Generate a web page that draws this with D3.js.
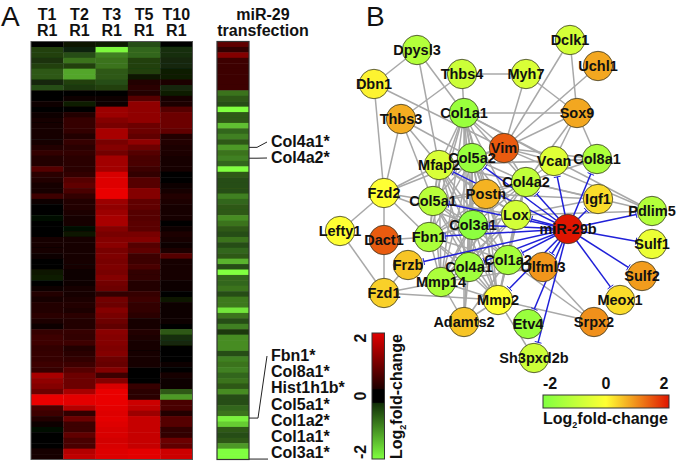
<!DOCTYPE html>
<html>
<head>
<meta charset="utf-8">
<script src="https://d3js.org/d3.v7.min.js"></script>
<style>
  html, body { margin: 0; padding: 0; background: #fff; }
  text { font-family: "Liberation Sans", Arial, sans-serif; font-weight: bold; fill: #111; }
</style>
</head>
<body>
<svg id="chart" width="680" height="462"></svg>
<script>
// Panel A: log2 fold-change per gene (rows, top to bottom) for each column
var headers = ["T1", "T2", "T3", "T5", "T10"];
var t1 = [0,-.5,-.5,-.4,-.5,-.7,-.7,-.3,-.6,0,0,.1,0,.1,.15,.2,.2,.2,.15,.3,.4,.3,.3,.7,.35,.3,.2,.2,.5,.1,.05,.05,-.1,0,0,-.05,.2,.15,.15,.1,.05,.05,-.15,-.2,.05,.1,.3,.2,.3,.3,.35,.25,.1,.45,.5,.5,.4,.45,.45,.5,.45,1.4,1.2,1.1,.9,1.95,1.95,.6,.5,.3,.1,-.1,.05,.05,0,.2,.2];
var t2 = [-.15,-.25,-.6,-.9,-.5,-1.3,-1.3,-.5,-.45,0,.1,-.2,.05,.3,.45,.45,.4,.3,.45,.35,.4,.35,.35,.35,.4,.7,.8,.6,.4,.3,.3,.25,.2,.2,-.1,-.15,.2,.2,.2,.2,.15,.15,.1,.1,.1,.15,.2,.25,.3,.25,.35,.3,.3,.45,.4,.5,.3,.35,.4,.5,.7,.9,.9,.9,1.4,1.9,1.9,1.5,.4,.9,.5,.5,.8,.6,.6,1.5,1.6];
var t3 = [-.2,-1.95,-1,-.9,-.9,-.7,-.7,-.6,-.5,.05,.1,.1,1.3,1.3,1.1,1,1.4,1.4,1,1.1,.95,1.35,1.35,1.35,1.8,1.85,1.85,1.95,1.95,1.3,1.2,1.3,1.4,1.4,1.1,1,1.1,1.15,1,1.05,1,1.05,1,1.1,.95,.9,.4,.95,.9,1.1,1,.9,.8,1.15,1.1,1.1,1.05,1.1,.9,.85,1.1,.5,1.1,1.8,1.95,1.95,1.95,1.9,1.85,1.9,1.85,1.8,1.8,1.75,1.8,1.85,1.85];
var t5 = [-.6,-.8,-.8,-.5,-.5,-.5,-.15,.3,.35,.3,.7,1.2,1.2,1.2,1.2,.9,.9,.8,1.2,.9,.7,.6,.6,.5,.4,.7,.7,1.1,1.1,.8,.8,.7,.7,.75,.75,1,1.1,.7,.8,.5,.5,.6,.4,.4,.3,.3,.45,.5,.4,.4,.35,.15,.2,.3,.25,.2,.15,.15,.2,.2,.05,.05,.05,.45,.35,.35,1.7,1.6,1.3,1.65,1.65,1.65,1.65,1.65,1.65,1.9,1.9];
var t10 = [-.05,-.35,-.35,-.3,-.3,-.2,-.2,.25,-.3,-.2,.15,.25,.7,.9,.9,.9,.8,.3,.3,.25,.25,.2,.2,.15,.05,-.05,.1,.15,.3,.25,.2,.2,.2,.05,.1,.25,.15,.1,.25,.7,.15,.2,.2,.15,.1,.1,.05,-.15,.1,.1,.1,.1,.05,-.7,-.35,-.3,-.05,.05,.05,.1,-.05,.2,.1,.1,-.7,-1.2,.6,.6,.3,.7,.7,.4,.4,.9,.8,1.7,1.7];
var mir29 = [.8,.4,1.1,.5,.5,.5,.5,.5,.5,-.9,-.7,-.6,-2,-.7,-.7,-1.5,-.8,-1,-.7,-1.2,-.9,-1,-.8,-2,-.7,-.6,-.6,-.6,-1,-.8,-.7,-.7,-1.1,-.9,-.7,-.6,-.9,-.6,-.8,-.7,-1.4,-.6,-2,-.8,-.8,-.9,-.6,-.95,-.95,-1.8,-.9,-.6,-1,-.45,-1.1,-1.1,-1.1,-.6,-1,-.9,-1,-.8,-.9,-.7,-1.1,-.6,-.6,-.8,-.9,-1.9,-1.6,-.7,-.6,-.7,-1.2,-2,-2];
var columns = [t1, t2, t3, t5, t10];

// labels next to the transfection strip, row = row they point at
var topGenes = [{name: "Col4a1*", row: 19}, {name: "Col4a2*", row: 21}];
var bottomGenes = ["Fbn1*", "Col8a1*", "Hist1h1b*", "Col5a1*", "Col1a2*", "Col1a1*", "Col3a1*"];

// Panel B: network, layout units from the picture
var nodeNames = ["Dpysl3","Dbn1","Thbs4","Myh7","Dclk1","Uchl1","Thbs3","Col1a1","Sox9","Vim","Col5a2","Mfap2","Vcan","Col8a1","Col4a2","Fzd2","Col5a1","Postn","Igf1","Pdlim5","Lox","Col3a1","miR-29b","Lefty1","Sulf1","Dact1","Fbn1","Col1a2","Frzb","Col4a1","Olfml3","Sulf2","Mmp14","Fzd1","Mmp2","Meox1","Adamts2","Etv4","Srpx2","Sh3pxd2b"];
var nodeFc = [-1.2,.1,-.8,-.6,-.7,.75,.7,-1.6,.75,1.4,-1.6,-.6,-.5,-1.3,-1,0,-1.1,.65,.3,-1.2,-.7,-1.8,2,0,-.3,1.4,-1.3,-1.4,.5,-1.5,.9,.85,-1.3,.4,0,.3,.5,-1.6,.95,-.8];
var nodeX = [21.75,11,33,49,60,67,17.75,33.5,61.75,43.5,35.5,27.25,56,66.75,49,13.5,25.75,39,67,80.5,46.5,35.75,59.5,2.5,80.5,13.5,24.75,44.5,19.5,34.75,53.25,78,27.75,13.5,42,72.5,33.5,49.5,66,51];
var nodeY = [5,13.5,11,11,2.5,9,22.25,20.75,20.75,29.5,32,33.75,32.75,32.25,38,40.75,42.75,41,42.25,45.25,46.25,48.75,49.75,50.25,53.5,52.5,51.75,57.5,58.75,59.25,59.25,61.5,63,65.75,67.5,67.5,73,73.5,73,82];

var grayEdges = [
  ["Dpysl3","Dbn1"],["Dpysl3","Col1a1"],["Dpysl3","Mfap2"],["Dbn1","Fzd2"],["Dbn1","Vim"],
  ["Thbs4","Myh7"],["Thbs4","Col1a1"],["Thbs4","Thbs3"],["Myh7","Vim"],["Myh7","Sox9"],
  ["Dclk1","Vim"],["Dclk1","Sox9"],["Uchl1","Vim"],["Col1a1","Sox9"],["Sox9","Vim"],["Sox9","Vcan"],
  ["Sox9","Col8a1"],["Sox9","Col4a2"],["Thbs3","Fzd2"],["Thbs3","Col5a2"],["Thbs3","Col5a1"],["Thbs3","Mfap2"],
  ["Col1a1","Vim"],["Col1a1","Vcan"],["Col1a1","Adamts2"],["Col1a1","Pdlim5"],["Vim","Vcan"],["Vim","Col8a1"],
  ["Vim","Col5a2"],["Vim","Pdlim5"],["Vim","Mfap2"],["Vim","Col4a2"],["Fzd2","Lefty1"],["Fzd2","Mfap2"],["Fzd2","Col5a2"],
  ["Fzd2","Col5a1"],["Fzd2","Fbn1"],["Fzd2","Dact1"],["Fzd2","Col3a1"],["Dact1","Fbn1"],["Dact1","Fzd1"],
  ["Lefty1","Fzd1"],["Fzd1","Frzb"],["Fzd1","Mmp14"],["Fzd1","Mmp2"],["Mmp2","Srpx2"],["Olfml3","Srpx2"],
  ["Col1a2","Srpx2"],["Mmp2","Sh3pxd2b"],["Adamts2","Mmp2"],["Adamts2","Col5a2"],["Adamts2","Col3a1"],["Adamts2","Col1a2"],
  ["Lox","Igf1"],["Lox","Pdlim5"],["Col4a2","Pdlim5"],["Col4a2","Col8a1"],["Vcan","Col8a1"],["Vcan","Col4a2"],
  ["Igf1","Col4a2"],["Igf1","Postn"],["Mfap2","Col8a1"],["Vcan","Mfap2"],["Mmp14","Adamts2"],["Mmp14","Olfml3"]
];
// collagen core, every pair in it is connected
var coreGenes = ["Col1a1","Col5a2","Mfap2","Col5a1","Postn","Lox","Col3a1","Fbn1","Col1a2","Col4a1","Mmp14","Mmp2","Col4a2"];
var mirTargets = ["Col5a2","Mfap2","Col5a1","Col4a2","Vcan","Col8a1","Igf1","Pdlim5","Lox","Col3a1","Sulf1","Sulf2","Meox1","Fbn1","Col1a2","Col4a1","Frzb","Olfml3","Mmp2","Etv4","Sh3pxd2b"];

var svg = d3.select("#chart");
var labelSize = "16px";

// Heat colours: green - black - red
var heatColor = d3.scaleLinear().domain([-2, 0, 2]).range(["#80ff40", "#000000", "#f00000"]).clamp(true);
var nodeColor = d3.scaleLinear().domain([-2, 0, 2]).range(["#80ff40", "#ffff33", "#e01500"]);

var rowIds = d3.range(t1.length);
var rowY = d3.scaleBand().domain(rowIds).range([41.5, 459.5]);
var colX = d3.scaleBand().domain(headers).range([31, 192.5]);
var stripX = d3.scaleBand().domain(["mir"]).range([217, 249]);

var defs = svg.append("defs");
// the rows run into each other a little in the original
defs.append("filter").attr("id", "soft").attr("x", "0%").attr("y", "0%").attr("width", "100%").attr("height", "100%")
  .append("feGaussianBlur").attr("stdDeviation", "0.3 0.6");

// Panel letters
svg.append("text").attr("x", 1).attr("y", 25.5).style("font-size", "28px").style("font-weight", "normal").text("A");
svg.append("text").attr("x", 366).attr("y", 25.5).style("font-size", "28px").style("font-weight", "normal").text("B");

// Heatmap
var heat = svg.append("g").attr("filter", "url(#soft)");
columns.forEach(function(col, i) {
  heat.append("g")
    .selectAll("rect")
    .data(col)
    .enter()
    .append("rect")
    .attr("x", colX(headers[i]))
    .attr("y", (d, r) => rowY(r))
    .attr("width", colX.bandwidth() + 0.3)
    .attr("height", rowY.bandwidth() + 0.5)
    .style("fill", d => heatColor(d));
});
svg.append("rect")
  .attr("x", colX.range()[0]).attr("y", rowY.range()[0])
  .attr("width", colX.range()[1] - colX.range()[0])
  .attr("height", rowY.range()[1] - rowY.range()[0])
  .style("fill", "none").style("stroke", "#555").style("stroke-width", 1);

headers.forEach(function(h) {
  var t = svg.append("text")
    .attr("text-anchor", "middle")
    .style("font-size", labelSize);
  t.append("tspan").attr("x", colX(h) + colX.bandwidth() / 2).attr("y", 20).text(h);
  t.append("tspan").attr("x", colX(h) + colX.bandwidth() / 2).attr("y", 36).text("R1");
});

// Transfection strip
svg.append("g")
  .attr("filter", "url(#soft)")
  .selectAll("rect")
  .data(mir29)
  .enter()
  .append("rect")
  .attr("x", stripX("mir"))
  .attr("y", (d, r) => rowY(r))
  .attr("width", stripX.bandwidth())
  .attr("height", rowY.bandwidth() + 0.5)
  .style("fill", d => heatColor(d));
svg.append("rect")
  .attr("x", stripX("mir")).attr("y", rowY.range()[0])
  .attr("width", stripX.bandwidth()).attr("height", rowY.range()[1] - rowY.range()[0])
  .style("fill", "none").style("stroke", "#333").style("stroke-width", 1.2);

var stripTitle = svg.append("text").attr("text-anchor", "middle").style("font-size", labelSize);
stripTitle.append("tspan").attr("x", 263).attr("y", 20).text("miR-29");
stripTitle.append("tspan").attr("x", 263).attr("y", 36).text("transfection");

// Gene callouts
var line = d3.line();
var stripRight = stripX.range()[1];
topGenes.forEach(function(g, i) {
  var y = rowY(g.row) + rowY.bandwidth() / 2;
  var labelY = 147 + i * 16;
  svg.append("path")
    .attr("d", line([[stripRight, y], [stripRight + 8, y], [stripRight + 18, labelY - 5]]))
    .style("fill", "none").style("stroke", "#222").style("stroke-width", 1);
  svg.append("text").attr("x", 271).attr("y", labelY).style("font-size", labelSize).text(g.name);
});
var bottomY = d3.scalePoint().domain(bottomGenes).range([361, 458]);
bottomGenes.forEach(function(g) {
  svg.append("text").attr("x", 271).attr("y", bottomY(g)).style("font-size", labelSize).text(g);
});
svg.append("path")
  .attr("d", line([[stripRight, rowY(69) + 2], [stripRight + 9, rowY(69) + 2], [stripRight + 18, 356]]))
  .style("fill", "none").style("stroke", "#222").style("stroke-width", 1);
svg.append("path")
  .attr("d", line([[stripRight, rowY(76) + 5], [stripRight + 19, rowY(76) + 5]]))
  .style("fill", "none").style("stroke", "#222").style("stroke-width", 1);

// Vertical legend of panel A
var vBar = d3.scaleLinear().domain([-2, 2]).range([459, 333]);
var vGrad = defs.append("linearGradient").attr("id", "heatLegend")
  .attr("x1", "0%").attr("y1", "100%").attr("x2", "0%").attr("y2", "0%");
[[0, "#80ff40"], [0.44, "#123008"], [0.45, "#000"], [0.55, "#000"], [0.56, "#200000"], [1, "#e00000"]].forEach(function(s) {
  vGrad.append("stop").attr("offset", s[0]).attr("stop-color", s[1]);
});
svg.append("rect").attr("x", 372).attr("y", vBar(2)).attr("width", 12.5).attr("height", vBar(-2) - vBar(2))
  .style("fill", "url(#heatLegend)").style("stroke", "#333");
[-2, 0, 2].forEach(function(v) {
  svg.append("text")
    .attr("text-anchor", "middle")
    .attr("transform", "translate(366," + (vBar(v) + (v == 2 ? 5 : v == -2 ? -7 : 0)) + ") rotate(-90)")
    .style("font-size", labelSize)
    .text(v);
});
var vTitle = svg.append("text")
  .attr("transform", "translate(402,459) rotate(-90)")
  .style("font-size", labelSize);
vTitle.append("tspan").text("Log");
vTitle.append("tspan").attr("dy", 4).style("font-size", "9px").text("2");
vTitle.append("tspan").attr("dy", -4).text("fold-change");

// Network
var xScale = d3.scaleLinear().domain([0, 85]).range([330, 670]);
var yScale = d3.scaleLinear().domain([0, 85]).range([30, 370]);
var nodes = nodeNames.map(function(name, i) {
  return {name: name, fc: nodeFc[i], x: xScale(nodeX[i]), y: yScale(nodeY[i])};
});
var byName = Object.fromEntries(nodes.map(n => [n.name, n]));
var radius = 14.7;

var coreEdges = [];
coreGenes.forEach(function(a, i) {
  coreGenes.slice(i + 1).forEach(function(b) { coreEdges.push([a, b]); });
});

svg.append("g")
  .selectAll("line")
  .data(grayEdges.concat(coreEdges))
  .enter()
  .append("line")
  .attr("x1", d => byName[d[0]].x)
  .attr("y1", d => byName[d[0]].y)
  .attr("x2", d => byName[d[1]].x)
  .attr("y2", d => byName[d[1]].y)
  .style("stroke", "#a8a8a8")
  .style("stroke-width", 1.5);

// Inhibition edges from miR-29b, ended by a small bar at the target
var mir = byName["miR-29b"];
var inhibit = svg.append("g").style("stroke", "#2020d8").style("fill", "none");
mirTargets.forEach(function(name) {
  var t = byName[name];
  var dx = t.x - mir.x, dy = t.y - mir.y, len = Math.sqrt(dx * dx + dy * dy);
  var ux = dx / len, uy = dy / len;
  var ex = t.x - ux * (radius + 1.5), ey = t.y - uy * (radius + 1.5);
  inhibit.append("line").attr("x1", mir.x).attr("y1", mir.y).attr("x2", ex).attr("y2", ey).style("stroke-width", 1.5);
  inhibit.append("line")
    .attr("x1", ex - uy * 3.5).attr("y1", ey + ux * 3.5)
    .attr("x2", ex + uy * 3.5).attr("y2", ey - ux * 3.5)
    .style("stroke-width", 1);
});

svg.append("g")
  .selectAll("circle")
  .data(nodes)
  .enter()
  .append("circle")
  .attr("cx", d => d.x)
  .attr("cy", d => d.y)
  .attr("r", radius)
  .style("fill", d => nodeColor(d.fc))
  .style("stroke", "#3a3a2a")
  .style("stroke-width", 0.8);

svg.append("g")
  .selectAll("text")
  .data(nodes)
  .enter()
  .append("text")
  .attr("x", d => d.x)
  .attr("y", d => d.y + 5)
  .attr("text-anchor", "middle")
  .style("font-size", "14.5px")
  .text(d => d.name);

// Horizontal legend of panel B
var hBar = d3.scaleLinear().domain([-2, 2]).range([543, 669]);
var hGrad = defs.append("linearGradient").attr("id", "netLegend");
[-2, -1, 0, 1, 2].forEach(function(v) {
  hGrad.append("stop").attr("offset", (v + 2) / 4).attr("stop-color", nodeColor(v));
});
svg.append("rect").attr("x", hBar(-2)).attr("y", 395).attr("width", hBar(2) - hBar(-2)).attr("height", 13)
  .style("fill", "url(#netLegend)").style("stroke", "#333");
[-2, 0, 2].forEach(function(v) {
  svg.append("text")
    .attr("x", hBar(v) + (v == -2 ? 7 : v == 2 ? -5 : 0))
    .attr("y", 389)
    .attr("text-anchor", "middle")
    .style("font-size", labelSize)
    .text(v);
});
var hTitle = svg.append("text").attr("x", 543).attr("y", 424).style("font-size", labelSize);
hTitle.append("tspan").text("Log");
hTitle.append("tspan").attr("dy", 4).style("font-size", "9px").text("2");
hTitle.append("tspan").attr("dy", -4).text("fold-change");
</script>
</body>
</html>
